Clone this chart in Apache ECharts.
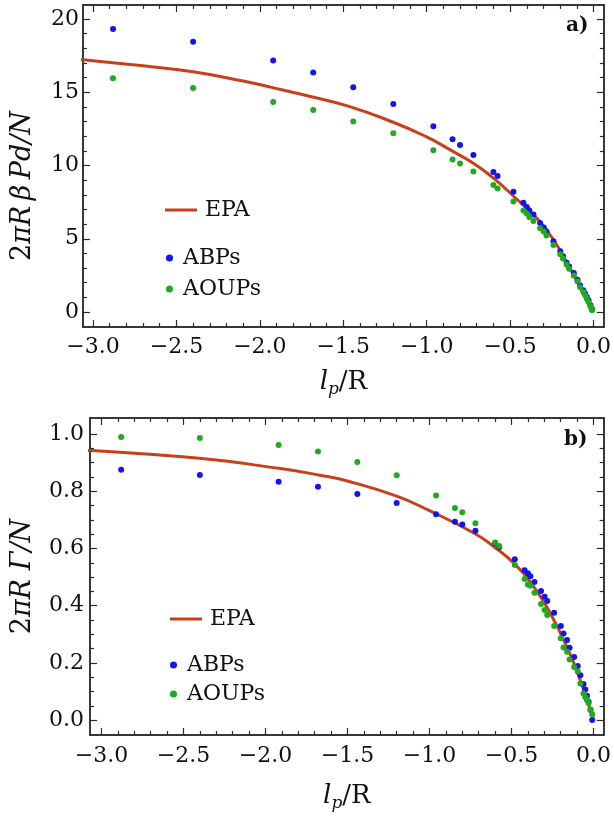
<!DOCTYPE html>
<html><head><meta charset="utf-8">
<script src="https://cdn.jsdelivr.net/npm/echarts@6/dist/echarts.min.js"></script>
<style>html,body{margin:0;padding:0;background:#fff}#c{width:614px;height:821px}</style>
</head><body><div id="c"></div>
<script>
// ---- data ----
const lp = [-2.88, -2.40, -1.92, -1.68, -1.44, -1.20, -0.96, -0.845, -0.80, -0.72, -0.60, -0.575, -0.48, -0.42, -0.40, -0.385, -0.36, -0.32, -0.298, -0.282, -0.24, -0.199, -0.183, -0.161, -0.146, -0.118, -0.096, -0.08, -0.061, -0.05, -0.04, -0.03, -0.018, -0.008];
const pressureABP = [19.31, 18.44, 17.17, 16.35, 15.33, 14.19, 12.68, 11.79, 11.4, 10.72, 9.56, 9.29, 8.2, 7.45, 7.17, 6.95, 6.65, 6.08, 5.77, 5.49, 4.83, 4.15, 3.8, 3.37, 3.1, 2.66, 2.21, 1.82, 1.48, 1.25, 1.02, 0.8, 0.46, 0.18];
const pressureAOUP = [15.96, 15.28, 14.34, 13.78, 13.0, 12.2, 11.04, 10.41, 10.14, 9.59, 8.67, 8.43, 7.54, 6.93, 6.72, 6.49, 6.22, 5.72, 5.5, 5.22, 4.58, 3.95, 3.66, 3.24, 2.95, 2.5, 2.1, 1.7, 1.36, 1.14, 0.92, 0.68, 0.38, 0.12];
const fluxABP = [0.875, 0.857, 0.833, 0.816, 0.79, 0.759, 0.72, 0.693, 0.684, 0.662, 0.618, 0.605, 0.562, 0.524, 0.513, 0.503, 0.483, 0.451, 0.431, 0.416, 0.375, 0.329, 0.303, 0.28, 0.253, 0.221, 0.189, 0.157, 0.126, 0.107, 0.085, 0.064, 0.035, 0.0];
const fluxAOUP = [0.99, 0.986, 0.962, 0.939, 0.902, 0.856, 0.785, 0.741, 0.727, 0.688, 0.621, 0.609, 0.542, 0.493, 0.474, 0.47, 0.445, 0.406, 0.385, 0.367, 0.329, 0.286, 0.254, 0.239, 0.212, 0.186, 0.17, 0.128, 0.093, 0.081, 0.07, 0.06, 0.037, 0.02];
const epaPressureX = [-3.08, -3.0, -2.7, -2.4, -2.1, -1.93, -1.69, -1.47, -1.2, -1.0, -0.864, -0.72, -0.596, -0.479, -0.338, -0.238, -0.139, -0.06, 0];
const epaPressureY = [17.24, 17.15, 16.8, 16.39, 15.76, 15.33, 14.69, 14.05, 12.95, 11.95, 11.1, 10.15, 9.1, 7.9, 6.38, 4.9, 2.96, 1.37, 0];
const epaFluxX = [-3.1, -3.06, -2.404, -1.919, -1.677, -1.495, -1.2, -1.0, -0.727, -0.606, -0.485, -0.364, -0.263, -0.162, -0.081, 0];
const epaFluxY = [0.943, 0.942, 0.915, 0.88, 0.857, 0.835, 0.783, 0.732, 0.653, 0.606, 0.548, 0.466, 0.373, 0.256, 0.14, 0];
const xTicks = [-3.0, -2.5, -2.0, -1.5, -1.0, -0.5, 0.0];
const yTicksTop = [0, 5, 10, 15, 20];
const yTicksBottom = [0.0, 0.2, 0.4, 0.6, 0.8, 1.0];

// ---- helpers ----
function minorOf(major, n) {
  const out = [];
  for (let i = 0; i < major.length - 1; i++) {
    const a = major[i], b = major[i + 1];
    for (let k = 1; k < n; k++) out.push(+(a + (b - a) * k / n).toFixed(4));
  }
  return out;
}
const zip = (xs, ys) => xs.map((x, i) => [x, ys[i]]);
const FONT = 'DejaVu Serif';
const AX = '#2b2b2b';
const RED = '#c8401a', BLUE = '#1414ee', GREEN = '#1faa1f';
const fmtX = v => v.toFixed(1).replace('-', '\u2212');

function axis(grid, pos, min, max, ticks, len, labelFmt, margin) {
  const a = {
    type: 'value', gridIndex: grid, position: pos, min: min, max: max,
    axisLine: { show: true, onZero: false, lineStyle: { color: AX, width: 1.5 } },
    axisTick: { show: true, inside: true, length: len, customValues: ticks, lineStyle: { color: AX, width: 1.2 } },
    axisLabel: { show: false },
    splitLine: { show: false },
    axisPointer: { show: false }
  };
  if (labelFmt) {
    a.axisLabel = { show: true, customValues: ticks, formatter: labelFmt, margin: margin,
      fontFamily: FONT, fontSize: 22, color: '#111' };
  }
  return a;
}

const xMinor = minorOf(xTicks, 5);
const yMinorTop = minorOf(yTicksTop, 5);
const yMinorBottom = minorOf(yTicksBottom, 4);

const xMinT = -3.06, xMaxT = 0.062, yMinT = -1.02, yMaxT = 20.95;
const xMinB = -3.07, xMaxB = 0.062, yMinB = -0.052, yMaxB = 1.056;

const xName = {
  name: '{l|l}{p|p}{r|/R}', nameLocation: 'middle',
  nameTextStyle: { rich: {
    l: { fontFamily: FONT, fontStyle: 'italic', fontSize: 26, color: '#111' },
    p: { fontFamily: FONT, fontStyle: 'italic', fontSize: 17, color: '#111', padding: [14, 0, 0, 0] },
    r: { fontFamily: FONT, fontSize: 26, color: '#111' }
  } }
};

const xAxes = [
  Object.assign(axis(0, 'bottom', xMinT, xMaxT, xTicks, 7, fmtX, 9), xName, { nameGap: 40 }),
  axis(0, 'bottom', xMinT, xMaxT, xMinor, 4),
  axis(0, 'top', xMinT, xMaxT, xTicks, 7),
  axis(0, 'top', xMinT, xMaxT, xMinor, 4),
  Object.assign(axis(1, 'bottom', xMinB, xMaxB, xTicks, 7, fmtX, 10), xName, { nameGap: 46 }),
  axis(1, 'bottom', xMinB, xMaxB, xMinor, 4),
  axis(1, 'top', xMinB, xMaxB, xTicks, 7),
  axis(1, 'top', xMinB, xMaxB, xMinor, 4)
];
const yNameStyle = {
  a: { fontFamily: FONT, fontSize: 27, color: '#111' },
  b: { fontFamily: FONT, fontStyle: 'italic', fontSize: 27, color: '#111' }
};
const yAxes = [
  Object.assign(axis(0, 'left', yMinT, yMaxT, yTicksTop, 7, v => String(v), 4), {
    name: '{a|2}{b|\u03c0R\u2009\u03b2\u2009Pd/N}', nameLocation: 'middle', nameGap: 47,
    nameTextStyle: { rich: yNameStyle, padding: [0, 40, 0, 0] } }),
  axis(0, 'left', yMinT, yMaxT, yMinorTop, 4),
  axis(0, 'right', yMinT, yMaxT, yTicksTop, 7),
  axis(0, 'right', yMinT, yMaxT, yMinorTop, 4),
  Object.assign(axis(1, 'left', yMinB, yMaxB, yTicksBottom, 7, v => v.toFixed(1), 6), {
    name: '{a|2}{b|\u03c0R \u0393/N}', nameLocation: 'middle', nameGap: 54,
    nameTextStyle: { rich: yNameStyle } }),
  axis(1, 'left', yMinB, yMaxB, yMinorBottom, 4),
  axis(1, 'right', yMinB, yMaxB, yTicksBottom, 7),
  axis(1, 'right', yMinB, yMaxB, yMinorBottom, 4)
];

const legText = { fontFamily: FONT, fontSize: 22, color: '#111' };
const option = {
  animation: false,
  backgroundColor: '#fff',
  title: [
    { text: 'a)', left: 566, top: 16, padding: 0, textStyle: { fontFamily: FONT, fontWeight: 'bold', fontSize: 20, color: '#111' } },
    { text: 'b)', left: 564, top: 430, padding: 0, textStyle: { fontFamily: FONT, fontWeight: 'bold', fontSize: 20, color: '#111' } }
  ],
  grid: [
    { left: 83, right: 7, top: 5, bottom: 494 },
    { left: 90, right: 7, top: 418, bottom: 86 }
  ],
  legend: [
    { data: [{ name: 'EPA', icon: 'rect' }], left: 160, top: 194, itemWidth: 32, itemHeight: 3, selectedMode: false,
      textStyle: Object.assign({ padding: [0, 0, 0, 3] }, legText) },
    { data: ['ABPs', 'AOUPs'], orient: 'vertical', left: 161, top: 242, itemWidth: 7, itemHeight: 7, itemGap: 9, selectedMode: false,
      textStyle: Object.assign({ padding: [0, 0, 0, 5] }, legText) },
    { data: [{ name: 'EPA', icon: 'rect' }], left: 165, top: 603, itemWidth: 32, itemHeight: 3, selectedMode: false,
      textStyle: Object.assign({ padding: [0, 0, 0, 3] }, legText) },
    { data: ['ABPs', 'AOUPs'], orient: 'vertical', left: 165, top: 649, itemWidth: 7, itemHeight: 7, itemGap: 7, selectedMode: false,
      textStyle: Object.assign({ padding: [0, 0, 0, 5] }, legText) }
  ],
  xAxis: xAxes,
  yAxis: yAxes,
  series: [
    { type: 'line', name: 'EPA', xAxisIndex: 0, yAxisIndex: 0, data: zip(epaPressureX, epaPressureY),
      smooth: 0.5, symbol: 'none', lineStyle: { color: RED, width: 3 }, itemStyle: { color: RED }, z: 2 },
    { type: 'scatter', name: 'ABPs', xAxisIndex: 0, yAxisIndex: 0, data: zip(lp, pressureABP), symbolSize: 6, itemStyle: { color: BLUE, opacity: 1 }, z: 3 },
    { type: 'scatter', name: 'AOUPs', xAxisIndex: 0, yAxisIndex: 0, data: zip(lp, pressureAOUP), symbolSize: 6, itemStyle: { color: GREEN, opacity: 1 }, z: 4 },
    { type: 'line', name: 'EPA', xAxisIndex: 4, yAxisIndex: 4, data: zip(epaFluxX, epaFluxY),
      smooth: 0.5, symbol: 'none', lineStyle: { color: RED, width: 3 }, itemStyle: { color: RED }, z: 2 },
    { type: 'scatter', name: 'ABPs', xAxisIndex: 4, yAxisIndex: 4, data: zip(lp, fluxABP), symbolSize: 6, itemStyle: { color: BLUE, opacity: 1 }, z: 3 },
    { type: 'scatter', name: 'AOUPs', xAxisIndex: 4, yAxisIndex: 4, data: zip(lp, fluxAOUP), symbolSize: 6, itemStyle: { color: GREEN, opacity: 1 }, z: 4 }
  ]
};
const chart = echarts.init(document.getElementById('c'), null, { renderer: 'canvas' });
chart.setOption(option);
</script>
</body></html>
